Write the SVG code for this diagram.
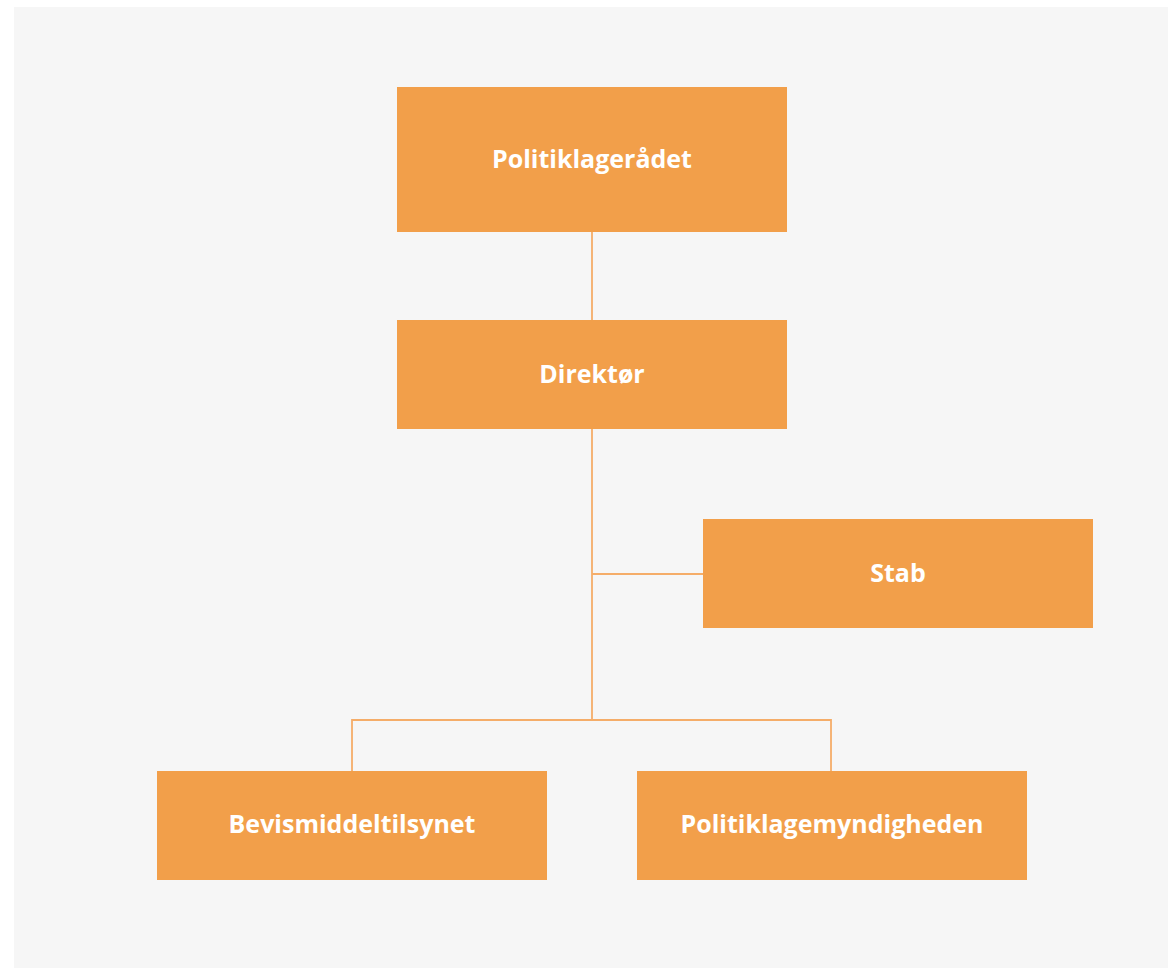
<svg xmlns="http://www.w3.org/2000/svg" width="1168" height="969" viewBox="0 0 1168 969">
<style>
.box{fill:#f29f4a}
.lbl{font-family:"Open Sans","Noto Sans",sans-serif;font-weight:700;font-size:25px;fill:#ffffff;text-anchor:middle;dominant-baseline:central}
.ln{fill:none;stroke:#f5ad69;stroke-width:1.8}
</style>
<rect x="0" y="0" width="1168" height="969" fill="#ffffff"/>
<rect x="14" y="7" width="1154" height="961" fill="#f6f6f6"/>
<g id="connectors">
<path class="ln" d="M592,232 V320"/>
<path class="ln" d="M592,429 V720"/>
<path class="ln" d="M592,574 H703"/>
<path class="ln" d="M352,771 V720 H831 V771"/>
</g>
<g id="politiklageraadet"><rect class="box" x="397" y="87" width="390" height="145"/><text class="lbl" x="592" y="158">Politiklagerådet</text></g>
<g id="direktoer"><rect class="box" x="397" y="320" width="390" height="109"/><text class="lbl" x="592" y="373">Direktør</text></g>
<g id="stab"><rect class="box" x="703" y="519" width="390" height="109"/><text class="lbl" x="898" y="572">Stab</text></g>
<g id="bevismiddeltilsynet"><rect class="box" x="157" y="771" width="390" height="109"/><text class="lbl" x="352" y="823">Bevismiddeltilsynet</text></g>
<g id="politiklagemyndigheden"><rect class="box" x="637" y="771" width="390" height="109"/><text class="lbl" x="832" y="823">Politiklagemyndigheden</text></g>
</svg>
